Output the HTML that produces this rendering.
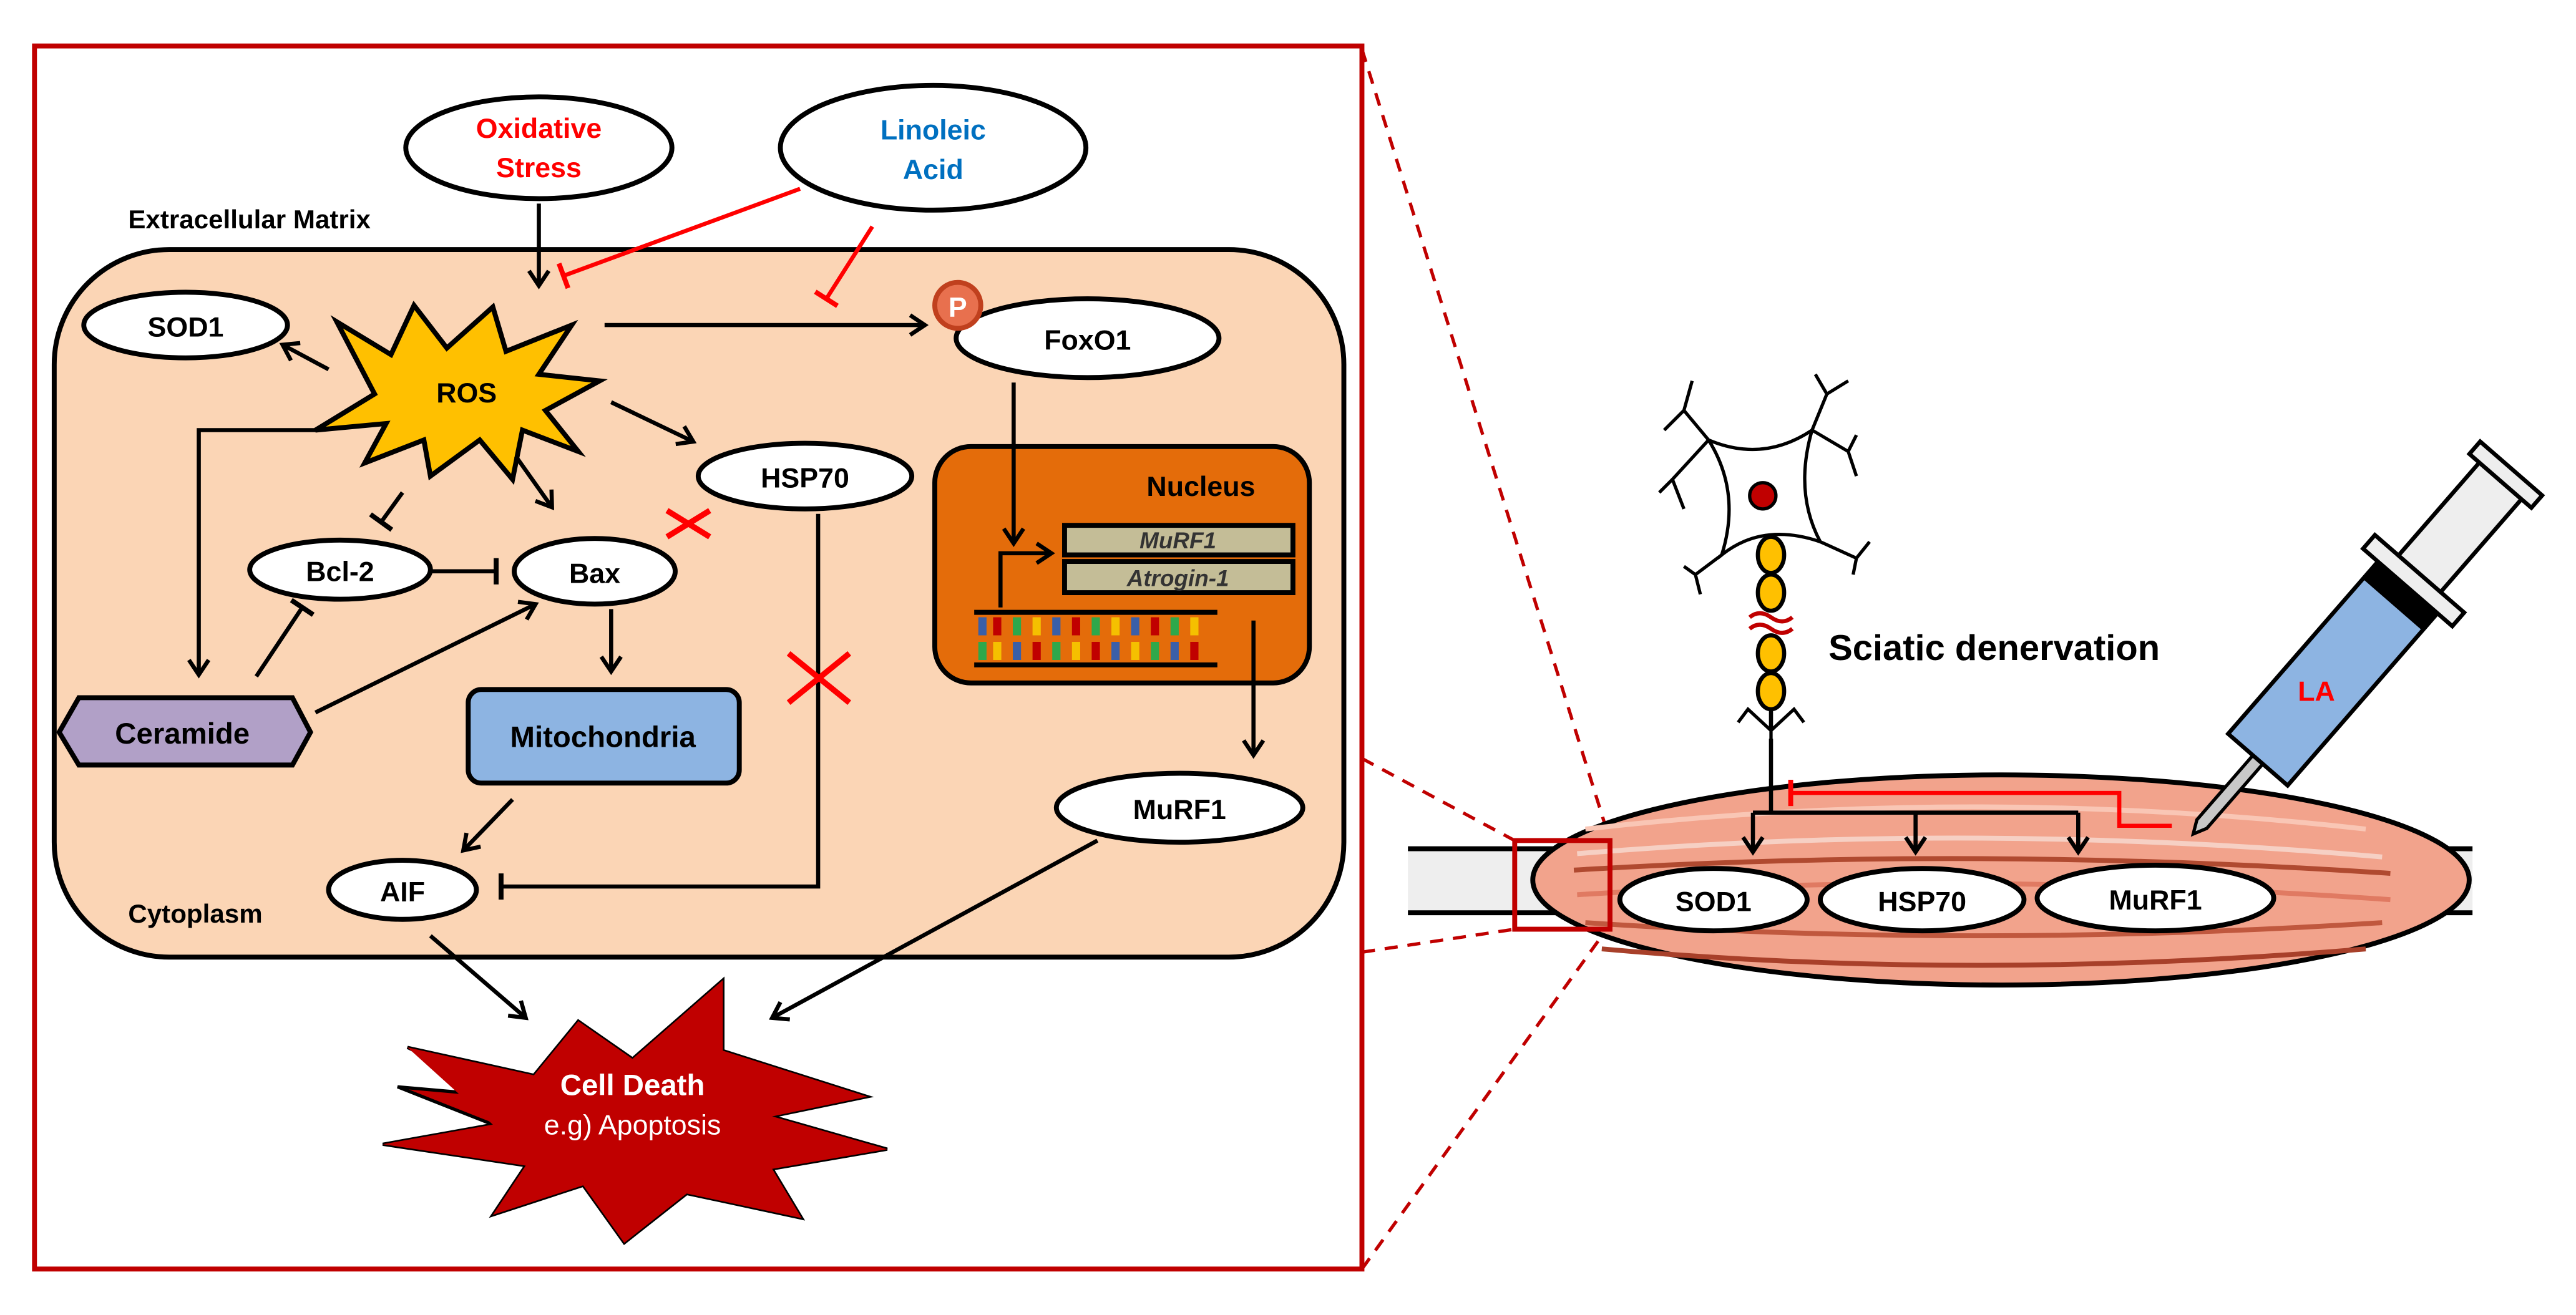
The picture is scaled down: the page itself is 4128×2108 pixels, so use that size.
<!DOCTYPE html>
<html><head><meta charset="utf-8"><style>
html,body{margin:0;padding:0;background:#fff;width:4128px;height:2108px;overflow:hidden}
svg{display:block}
text{font-family:"Liberation Sans",Arial,sans-serif;font-weight:bold}
</style></head><body>
<svg width="4128" height="2108" viewBox="0 0 1568 801" preserveAspectRatio="none" xmlns="http://www.w3.org/2000/svg">
<defs>
<marker id="ar" markerUnits="userSpaceOnUse" markerWidth="16" markerHeight="16" refX="12" refY="8" orient="auto">
<path d="M3,2 L12,8 L3,14" fill="none" stroke="#000" stroke-width="2.5"/></marker>
<marker id="tb" markerUnits="userSpaceOnUse" markerWidth="4" markerHeight="20" refX="2" refY="10" orient="auto">
<path d="M2,2 L2,18" stroke="#000" stroke-width="3"/></marker>
<marker id="tr" markerUnits="userSpaceOnUse" markerWidth="4" markerHeight="20" refX="2" refY="10" orient="auto">
<path d="M2,2 L2,18" stroke="#f00" stroke-width="3"/></marker>
</defs>
<rect width="1568" height="801" fill="#fff"/>
<rect x="21" y="28" width="808" height="745" fill="none" stroke="#c00000" stroke-width="3"/>
<g stroke="#c00000" stroke-width="2" stroke-dasharray="8,6" fill="none">
<line x1="829" y1="30" x2="980" y2="512"/>
<line x1="829" y1="462" x2="922" y2="512"/>
<line x1="829" y1="580" x2="922" y2="566"/>
<line x1="829" y1="773" x2="978" y2="566"/>
</g>
<rect x="33" y="152" width="785" height="431" rx="70" fill="#fbd5b5" stroke="#000" stroke-width="3"/>
<text x="78" y="139" font-size="16">Extracellular Matrix</text>
<text x="78" y="562" font-size="16">Cytoplasm</text>
<ellipse cx="328" cy="90" rx="81" ry="31" fill="#fff" stroke="#000" stroke-width="3"/>
<text x="328" y="84" font-size="17" fill="#f00" text-anchor="middle">Oxidative</text>
<text x="328" y="108" font-size="17" fill="#f00" text-anchor="middle">Stress</text>
<ellipse cx="568" cy="90" rx="93" ry="38" fill="#fff" stroke="#000" stroke-width="3"/>
<text x="568" y="85" font-size="17" fill="#0070c0" text-anchor="middle">Linoleic</text>
<text x="568" y="109" font-size="17" fill="#0070c0" text-anchor="middle">Acid</text>
<g stroke="#000" stroke-width="2.5" fill="none">
<line x1="328" y1="124" x2="328" y2="174" marker-end="url(#ar)"/>
</g>
<g stroke="#f00" stroke-width="2.5" fill="none">
<line x1="487" y1="115" x2="343" y2="168" marker-end="url(#tr)"/>
<line x1="531" y1="138" x2="503" y2="182" marker-end="url(#tr)"/>
</g>
<polygon points="205,196 238,216 252,186 272,212 300,187 308,214 348,198 328,228 365,232 332,250 352,275 318,262 312,292 292,268 262,290 258,268 222,282 235,258 192,262 228,240" fill="#ffc000" stroke="#000" stroke-width="3"/>
<text x="284" y="245" font-size="17" text-anchor="middle">ROS</text>
<ellipse cx="113" cy="198" rx="62" ry="20" fill="#fff" stroke="#000" stroke-width="3"/>
<text x="113" y="205" font-size="17" text-anchor="middle">SOD1</text>
<ellipse cx="662" cy="206" rx="80" ry="24" fill="#fff" stroke="#000" stroke-width="3"/>
<text x="662" y="213" font-size="17" text-anchor="middle">FoxO1</text>
<circle cx="583" cy="186" r="14" fill="#e8704e" stroke="#c0401e" stroke-width="3"/>
<text x="583" y="193" font-size="17" fill="#fff" text-anchor="middle">P</text>
<ellipse cx="490" cy="290" rx="65" ry="20" fill="#fff" stroke="#000" stroke-width="3"/>
<text x="490" y="297" font-size="17" text-anchor="middle">HSP70</text>
<ellipse cx="207" cy="347" rx="55" ry="18" fill="#fff" stroke="#000" stroke-width="3"/>
<text x="207" y="354" font-size="17" text-anchor="middle">Bcl-2</text>
<ellipse cx="362" cy="348" rx="49" ry="20" fill="#fff" stroke="#000" stroke-width="3"/>
<text x="362" y="355" font-size="17" text-anchor="middle">Bax</text>
<rect x="285" y="420" width="165" height="57" rx="8" fill="#8db4e2" stroke="#000" stroke-width="3"/>
<text x="367" y="455" font-size="18" text-anchor="middle">Mitochondria</text>
<polygon points="48,425 178,425 189,446 178,466 48,466 36,446" fill="#b1a0c7" stroke="#000" stroke-width="3"/>
<text x="111" y="453" font-size="18" text-anchor="middle">Ceramide</text>
<ellipse cx="245" cy="542" rx="45" ry="18" fill="#fff" stroke="#000" stroke-width="3"/>
<text x="245" y="549" font-size="17" text-anchor="middle">AIF</text>
<ellipse cx="718" cy="492" rx="75" ry="21" fill="#fff" stroke="#000" stroke-width="3"/>
<text x="718" y="499" font-size="17" text-anchor="middle">MuRF1</text>
<rect x="569" y="272" width="228" height="144" rx="22" fill="#e46c0a" stroke="#000" stroke-width="3"/>
<text x="731" y="302" font-size="17" text-anchor="middle">Nucleus</text>
<rect x="648" y="320" width="139" height="18" fill="#c4bd97" stroke="#000" stroke-width="3"/>
<rect x="648" y="342" width="139" height="19" fill="#c4bd97" stroke="#000" stroke-width="3"/>
<text x="717" y="334" font-size="14" font-style="italic" fill="#333" text-anchor="middle">MuRF1</text>
<text x="717" y="357" font-size="14" font-style="italic" fill="#333" text-anchor="middle">Atrogin-1</text>
<g stroke-width="5">
<line x1="593" y1="373" x2="741" y2="373" stroke="#000" stroke-width="3"/>
<line x1="593" y1="405" x2="741" y2="405" stroke="#000" stroke-width="3"/>
<line x1="598" y1="376" x2="598" y2="387" stroke="#3a5fa8"/><line x1="607" y1="376" x2="607" y2="387" stroke="#c00000"/><line x1="619" y1="376" x2="619" y2="387" stroke="#2ea84b"/><line x1="631" y1="376" x2="631" y2="387" stroke="#f5c000"/><line x1="643" y1="376" x2="643" y2="387" stroke="#3a5fa8"/><line x1="655" y1="376" x2="655" y2="387" stroke="#c00000"/><line x1="667" y1="376" x2="667" y2="387" stroke="#2ea84b"/><line x1="679" y1="376" x2="679" y2="387" stroke="#f5c000"/><line x1="691" y1="376" x2="691" y2="387" stroke="#3a5fa8"/><line x1="703" y1="376" x2="703" y2="387" stroke="#c00000"/><line x1="715" y1="376" x2="715" y2="387" stroke="#2ea84b"/><line x1="727" y1="376" x2="727" y2="387" stroke="#f5c000"/>
<line x1="598" y1="391" x2="598" y2="402" stroke="#2ea84b"/><line x1="607" y1="391" x2="607" y2="402" stroke="#f5c000"/><line x1="619" y1="391" x2="619" y2="402" stroke="#3a5fa8"/><line x1="631" y1="391" x2="631" y2="402" stroke="#c00000"/><line x1="643" y1="391" x2="643" y2="402" stroke="#2ea84b"/><line x1="655" y1="391" x2="655" y2="402" stroke="#f5c000"/><line x1="667" y1="391" x2="667" y2="402" stroke="#c00000"/><line x1="679" y1="391" x2="679" y2="402" stroke="#3a5fa8"/><line x1="691" y1="391" x2="691" y2="402" stroke="#f5c000"/><line x1="703" y1="391" x2="703" y2="402" stroke="#2ea84b"/><line x1="715" y1="391" x2="715" y2="402" stroke="#3a5fa8"/><line x1="727" y1="391" x2="727" y2="402" stroke="#c00000"/>
</g>
<g stroke="#000" stroke-width="2.5" fill="none">
<line x1="200" y1="225" x2="172" y2="210" marker-end="url(#ar)"/>
<line x1="368" y1="198" x2="563" y2="198" marker-end="url(#ar)"/>
<line x1="372" y1="245" x2="422" y2="269" marker-end="url(#ar)"/>
<line x1="314" y1="278" x2="336" y2="309" marker-end="url(#ar)"/>
<line x1="245" y1="300" x2="232" y2="318" marker-end="url(#tb)"/>
<polyline points="193,262 121,262 121,411" marker-end="url(#ar)"/>
<line x1="262" y1="348" x2="302" y2="348" marker-end="url(#tb)"/>
<line x1="372" y1="371" x2="372" y2="409" marker-end="url(#ar)"/>
<line x1="156" y1="412" x2="184" y2="370" marker-end="url(#tb)"/>
<line x1="192" y1="434" x2="326" y2="368" marker-end="url(#ar)"/>
<polyline points="498,313 498,540 305,540" marker-end="url(#tb)"/>
<line x1="312" y1="487" x2="282" y2="518" marker-end="url(#ar)"/>
<line x1="262" y1="570" x2="320" y2="620" marker-end="url(#ar)"/>
<line x1="668" y1="512" x2="470" y2="620" marker-end="url(#ar)"/>
<line x1="617" y1="233" x2="617" y2="331" marker-end="url(#ar)"/>
<polyline points="609,370 609,337 640,337" marker-end="url(#ar)"/>
<line x1="763" y1="378" x2="763" y2="460" marker-end="url(#ar)"/>
</g>
<g stroke="#f00" stroke-width="3.5">
<line x1="406" y1="311" x2="432" y2="327"/><line x1="406" y1="327" x2="432" y2="311"/>
<line x1="480" y1="398" x2="517" y2="428"/><line x1="480" y1="428" x2="517" y2="398"/>
</g>
<polygon points="248,638 325,655 352,622 385,645 440,597 440,640 528,668 470,680 540,700 470,712 488,742 418,727 380,757 355,722 300,740 320,710 233,697 300,685 242,662 310,668" fill="#c00000" stroke="#000" stroke-width="2"/>
<polygon points="248,638 325,655 352,622 385,645 440,597 440,640 528,668 470,680 540,700 470,712 488,742 418,727 380,757 355,722 300,740 320,710 233,697 300,685" fill="#c00000"/>
<text x="385" y="667" font-size="18" fill="#fff" text-anchor="middle">Cell Death</text>
<text x="385" y="691" font-size="17" fill="#fff" text-anchor="middle" style="font-weight:normal">e.g) Apoptosis</text>

<rect x="857" y="517" width="648" height="39" fill="#eeeeee"/>
<line x1="857" y1="517" x2="1505" y2="517" stroke="#000" stroke-width="3"/>
<line x1="857" y1="556" x2="1505" y2="556" stroke="#000" stroke-width="3"/>
<ellipse cx="1218" cy="536" rx="285" ry="64" fill="#f2a38c" stroke="#000" stroke-width="3"/>
<g fill="none" stroke-width="3">
<path d="M965,505 Q1200,478 1440,505" stroke="#f9c6b5"/>
<path d="M960,520 Q1200,500 1450,522" stroke="#f6d0c4"/>
<path d="M958,530 Q1200,515 1455,532" stroke="#b04a30"/>
<path d="M960,545 Q1200,530 1455,548" stroke="#e07a62"/>
<path d="M965,562 Q1200,578 1450,562" stroke="#c0583e"/>
<path d="M975,578 Q1200,598 1440,578" stroke="#a8402a"/>
</g>
<rect x="922" y="512" width="58" height="54" fill="none" stroke="#c00000" stroke-width="3"/>
<ellipse cx="1043" cy="548" rx="57" ry="19" fill="#fff" stroke="#000" stroke-width="3"/>
<text x="1043" y="555" font-size="17" text-anchor="middle">SOD1</text>
<ellipse cx="1170" cy="548" rx="62" ry="19" fill="#fff" stroke="#000" stroke-width="3"/>
<text x="1170" y="555" font-size="17" text-anchor="middle">HSP70</text>
<ellipse cx="1312" cy="547" rx="72" ry="20" fill="#fff" stroke="#000" stroke-width="3"/>
<text x="1312" y="554" font-size="17" text-anchor="middle">MuRF1</text>
<g stroke="#000" stroke-width="2.5" fill="none">
<line x1="1078" y1="450" x2="1078" y2="495"/>
<line x1="1067" y1="495" x2="1265" y2="495"/>
<line x1="1067" y1="495" x2="1067" y2="519" marker-end="url(#ar)"/>
<line x1="1166" y1="495" x2="1166" y2="519" marker-end="url(#ar)"/>
<line x1="1265" y1="495" x2="1265" y2="519" marker-end="url(#ar)"/>
</g>
<polyline points="1322,503 1290,503 1290,483 1090,483" fill="none" stroke="#f00" stroke-width="2.5" marker-end="url(#tr)"/>
<g stroke="#000" stroke-width="2" fill="none">
<path d="M1040,268 Q1073,282 1103,262 Q1092,300 1108,330 Q1073,318 1048,338 Q1060,300 1040,268 Z" fill="#fff"/>
<path d="M1040,268 L1025,250 L1013,262 M1025,250 L1030,232 M1040,268 L1018,292 L1010,300 M1018,292 L1025,310"/>
<path d="M1103,262 L1112,240 L1105,228 M1112,240 L1125,232 M1103,262 L1125,275 L1130,265 M1125,275 L1130,290"/>
<path d="M1108,330 L1130,340 L1128,350 M1130,340 L1138,330"/>
<path d="M1048,338 L1032,350 L1025,345 M1032,350 L1035,362"/>
<path d="M1078,445 L1064,432 L1058,440 M1078,445 L1092,432 L1098,440 M1078,445 L1078,452"/>
</g>
<circle cx="1073" cy="302" r="8" fill="#c00000" stroke="#000" stroke-width="2"/>
<g fill="#ffc000" stroke="#000" stroke-width="2.5">
<ellipse cx="1078" cy="338" rx="8" ry="11"/><ellipse cx="1078" cy="361" rx="8" ry="11"/>
<ellipse cx="1078" cy="398" rx="8" ry="11"/><ellipse cx="1078" cy="421" rx="8" ry="11"/>
</g>
<line x1="1078" y1="432" x2="1078" y2="445" stroke="#000" stroke-width="2.5"/>
<path d="M1065,376 q6,-5 13,0 t13,0 M1065,383 q6,-5 13,0 t13,0" fill="none" stroke="#c00000" stroke-width="2.5"/>
<text x="1113" y="402" font-size="22">Sciatic denervation</text>
<g transform="translate(1335,508) rotate(-49)">
<polygon points="0,0 8,-4 60,-4 60,4 8,4" fill="#c8c8c8" stroke="#000" stroke-width="2"/>
<rect x="60" y="-24" width="140" height="48" fill="#8db4e2" stroke="#000" stroke-width="2.5"/>
<rect x="185" y="-24" width="14" height="48" fill="#000"/>
<rect x="199" y="-36" width="11" height="72" fill="#eee" stroke="#000" stroke-width="2.5"/>
<rect x="210" y="-17" width="75" height="34" fill="#eee" stroke="#000" stroke-width="2.5"/>
<rect x="285" y="-25" width="10" height="50" fill="#eee" stroke="#000" stroke-width="2.5"/>
</g>
<text x="1410" y="427" font-size="17" fill="#f00" text-anchor="middle">LA</text>
</svg>
</body></html>
